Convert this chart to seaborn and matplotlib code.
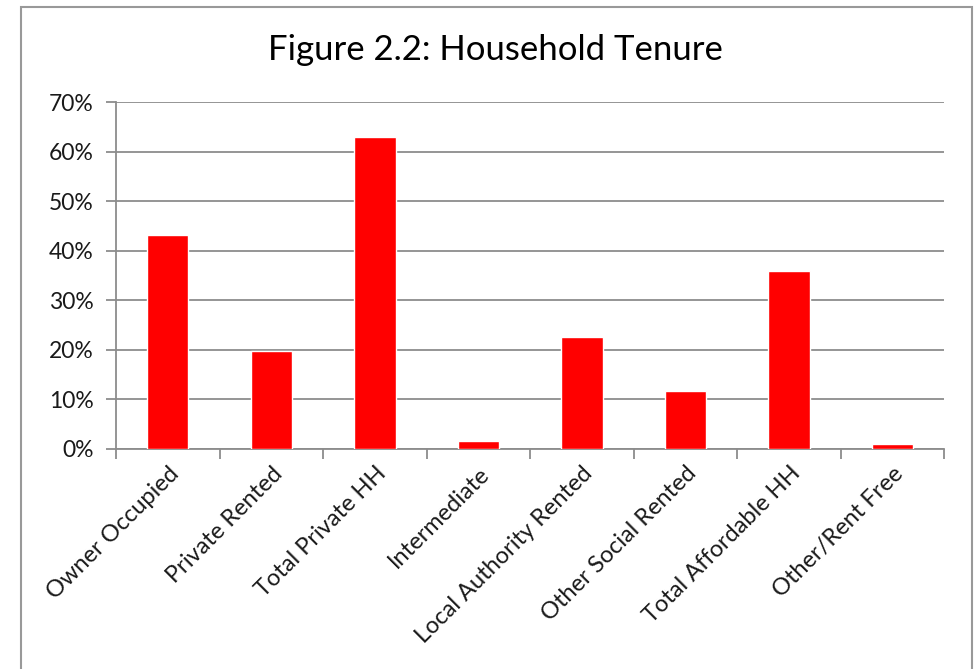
import numpy as np
import pandas as pd
import matplotlib
matplotlib.use("Agg")
import matplotlib.pyplot as plt
from matplotlib.ticker import PercentFormatter, FixedLocator, NullFormatter
import seaborn as sns

categories = ["Owner Occupied", "Private Rented", "Total Private HH", "Intermediate",
              "Local Authority Rented", "Other Social Rented", "Total Affordable HH",
              "Other/Rent Free"]
shares = [43.2, 19.8, 63.0, 1.5, 22.6, 11.7, 35.8, 1.0]
y_ticks = [0, 10, 20, 30, 40, 50, 60, 70]

df = pd.DataFrame({"tenure": categories, "share": shares})

sns.set_style("white")
plt.rcParams['font.family'] = ['Lato', 'DejaVu Sans']

grey = "#8c8c8c"
fig = plt.figure(figsize=(9.77, 6.69), dpi=100)
ax = fig.add_axes([0.1187, 0.329, 0.848, 0.5185])

sns.barplot(data=df, x="tenure", y="share", color="#ff0000", saturation=1,
            width=0.4, ax=ax, zorder=3)

ax.set_ylim(0, 70)
ax.set_xlim(-0.5, len(categories) - 0.5)
ax.set_yticks(y_ticks)
ax.yaxis.set_major_formatter(PercentFormatter(decimals=0))
ax.grid(axis="y", color=grey, linewidth=1.3, zorder=0)
ax.set_axisbelow(True)

# Excel-style ticks between the categories
ax.xaxis.set_minor_locator(FixedLocator(np.arange(-0.5, len(categories), 1.0)))
ax.xaxis.set_minor_formatter(NullFormatter())
ax.tick_params(axis="x", which="major", bottom=True, length=0, pad=10)
ax.tick_params(axis="x", which="minor", bottom=True, length=7, width=1.3,
               color=grey, direction="out")
ax.tick_params(axis="y", left=True, length=7, width=1.3, color=grey,
               direction="out", pad=9)
ax.tick_params(axis="x", labelsize=17, labelcolor="#1a1a1a")
ax.tick_params(axis="y", labelsize=16.5, labelcolor="#1a1a1a")

for lab in ax.get_xticklabels():
    lab.set_rotation(45)
    lab.set_ha("right")
    lab.set_rotation_mode("anchor")

for side in ["top", "right"]:
    ax.spines[side].set_visible(False)
for side in ["left", "bottom"]:
    ax.spines[side].set_color(grey)
    ax.spines[side].set_linewidth(1.3)

ax.set_xlabel("")
ax.set_ylabel("")

fig.text(0.507, 0.925, "Figure 2.2: Household Tenure", ha="center", va="center",
         fontsize=25, color="black")

# outer chart frame
frame = plt.Rectangle((0.0215, -0.05), 0.9735, 1.0395, transform=fig.transFigure,
                      fill=False, edgecolor="#999999", linewidth=1.5)
fig.patches.append(frame)

fig.savefig("out.png", dpi=100)
